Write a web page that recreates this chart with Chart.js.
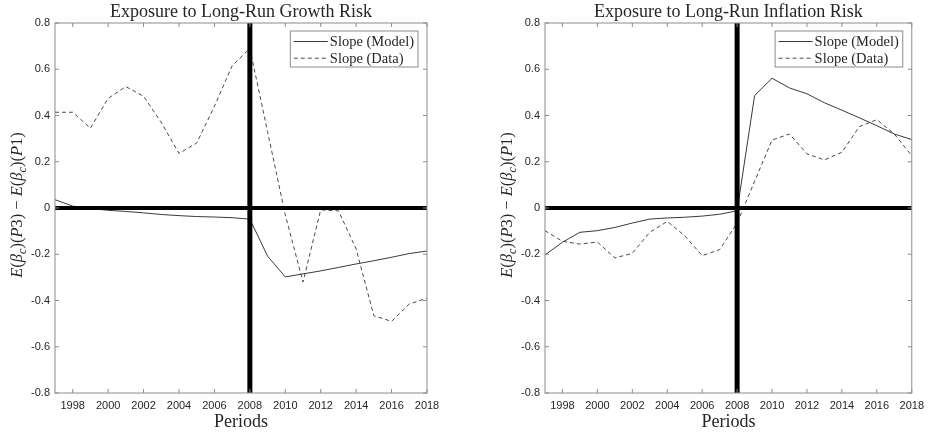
<!DOCTYPE html>
<html>
<head>
<meta charset="utf-8">
<script src="https://cdn.jsdelivr.net/npm/chart.js@4/dist/chart.umd.min.js"></script>
<style>
  html, body { margin: 0; padding: 0; background: #fff; }
  #wrap { position: relative; width: 930px; height: 434px; }
  canvas { position: absolute; top: 0; }
</style>
</head>
<body>
<div id="wrap">
  <canvas id="growth" width="465" height="434" style="left:0"></canvas>
  <canvas id="inflation" width="465" height="434" style="left:465px"></canvas>
</div>
<script>
// Sample periods (years)
const years = [1997, 1998, 1999, 2000, 2001, 2002, 2003, 2004, 2005, 2006, 2007,
               2008, 2009, 2010, 2011, 2012, 2013, 2014, 2015, 2016, 2017, 2018];

// Long-run growth risk: slope of E(beta_c) between portfolios P3 and P1
const growthModel = [0.036, 0.008, -0.002, -0.010, -0.015, -0.021, -0.028, -0.033, -0.037, -0.039, -0.042,
                     -0.048, -0.208, -0.298, -0.285, -0.272, -0.257, -0.242, -0.228, -0.213, -0.197, -0.186];
const growthData  = [0.414, 0.414, 0.345, 0.474, 0.525, 0.483, 0.370, 0.236, 0.281, 0.440, 0.615,
                     0.690, 0.330, -0.030, -0.320, -0.008, -0.012, -0.177, -0.466, -0.490, -0.415, -0.390];

// Long-run inflation risk
const inflationModel = [-0.203, -0.148, -0.105, -0.098, -0.084, -0.065, -0.048, -0.043, -0.040, -0.035, -0.027,
                        -0.012, 0.486, 0.561, 0.519, 0.494, 0.455, 0.423, 0.390, 0.356, 0.320, 0.296];
const inflationData  = [-0.098, -0.144, -0.156, -0.147, -0.216, -0.196, -0.105, -0.058, -0.120, -0.206, -0.180,
                        -0.065, 0.115, 0.294, 0.320, 0.234, 0.208, 0.241, 0.352, 0.382, 0.320, 0.226];

// Axis ticks
const yearTicks  = [1998, 2000, 2002, 2004, 2006, 2008, 2010, 2012, 2014, 2016, 2018];
const valueTicks = [-0.8, -0.6, -0.4, -0.2, 0, 0.2, 0.4, 0.6, 0.8];

// Reference lines: zero slope and the 2008 break
const baseline = 0;
const breakYear = 2008;

const seriesLabels = ['Slope (Model)', 'Slope (Data)'];
const titles = ['Exposure to Long-Run Growth Risk', 'Exposure to Long-Run Inflation Risk'];
const xTitle = 'Periods';

const SERIF = '"Liberation Serif", "Times New Roman", serif';
const SANS = '"Liberation Sans", Arial, sans-serif';
const TEXT = '#262626';
const FRAME = '#8c8c8c';

// y-axis label: E(β_c)(P3) − E(β_c)(P1), pieces with style flags
const yLabelPieces = [
  ['E', 'i'], ['(', 'r'], ['β', 'i'], ['c', 's'], [')(', 'r'], ['P', 'i'], ['3)', 'r'],
  [' − ', 'r'],
  ['E', 'i'], ['(', 'r'], ['β', 'i'], ['c', 's'], [')(', 'r'], ['P', 'i'], ['1)', 'r']
];

function pieceFont(kind, size) {
  if (kind === 'i') return 'italic ' + size + 'px ' + SERIF;
  if (kind === 's') return 'italic ' + Math.round(size * 0.7) + 'px ' + SERIF;
  return size + 'px ' + SERIF;
}

function drawYLabel(ctx, cx, cy, size) {
  let total = 0;
  const widths = yLabelPieces.map(([t, k]) => {
    ctx.font = pieceFont(k, size);
    const w = ctx.measureText(t).width;
    total += w;
    return w;
  });
  ctx.save();
  ctx.translate(cx, cy);
  ctx.rotate(-Math.PI / 2);
  ctx.fillStyle = TEXT;
  ctx.textBaseline = 'middle';
  ctx.textAlign = 'left';
  let x = -total / 2;
  yLabelPieces.forEach(([t, k], i) => {
    ctx.font = pieceFont(k, size);
    ctx.fillText(t, x, k === 's' ? size * 0.3 : 0);
    x += widths[i];
  });
  ctx.restore();
}

const decor = {
  id: 'decor',
  afterDatasetsDraw(chart, args, opts) {
    const { ctx, chartArea: a, scales: { x, y } } = chart;
    ctx.save();

    // Bold reference lines
    ctx.strokeStyle = '#000';
    ctx.lineWidth = 4;
    const y0 = y.getPixelForValue(baseline);
    ctx.beginPath(); ctx.moveTo(a.left, y0); ctx.lineTo(a.right, y0); ctx.stroke();
    ctx.lineWidth = 5;
    const xb = x.getPixelForValue(breakYear);
    ctx.beginPath(); ctx.moveTo(xb, a.top); ctx.lineTo(xb, a.bottom); ctx.stroke();

    // Axes box with inward ticks on all four sides
    ctx.strokeStyle = FRAME;
    ctx.lineWidth = 1;
    ctx.strokeRect(a.left, a.top, a.right - a.left, a.bottom - a.top);
    const tl = 4;
    ctx.beginPath();
    yearTicks.forEach(v => {
      const px = x.getPixelForValue(v);
      ctx.moveTo(px, a.bottom); ctx.lineTo(px, a.bottom - tl);
      ctx.moveTo(px, a.top); ctx.lineTo(px, a.top + tl);
    });
    valueTicks.forEach(v => {
      const py = y.getPixelForValue(v);
      ctx.moveTo(a.left, py); ctx.lineTo(a.left + tl, py);
      ctx.moveTo(a.right, py); ctx.lineTo(a.right - tl, py);
    });
    ctx.stroke();

    // Legend in the upper-right corner of the plot
    const fs = 14.5;
    ctx.font = fs + 'px ' + SERIF;
    const sample = 34;
    const textW = Math.max(...chart.data.datasets.map(d => ctx.measureText(d.label).width));
    const boxW = 3.5 + sample + 2 + textW + 4;
    const boxH = 36;
    const bx = a.right - 9 - boxW;
    const by = a.top + 8;
    ctx.fillStyle = '#fff';
    ctx.fillRect(bx, by, boxW, boxH);
    ctx.strokeStyle = FRAME;
    ctx.strokeRect(bx, by, boxW, boxH);
    chart.data.datasets.forEach((d, i) => {
      const ry = by + 10.5 + i * 16.7;
      ctx.strokeStyle = d.borderColor;
      ctx.lineWidth = 1;
      ctx.setLineDash(d.borderDash || []);
      ctx.beginPath(); ctx.moveTo(bx + 3.5, ry); ctx.lineTo(bx + 3.5 + sample, ry); ctx.stroke();
      ctx.setLineDash([]);
      ctx.fillStyle = TEXT;
      ctx.textBaseline = 'middle';
      ctx.textAlign = 'left';
      ctx.fillText(d.label, bx + 3.5 + sample + 2, ry + 0.5);
    });

    // Title centred over the plot area
    ctx.font = '18px ' + SERIF;
    ctx.fillStyle = TEXT;
    ctx.textAlign = 'center';
    ctx.textBaseline = 'alphabetic';
    ctx.fillText(opts.title, (a.left + a.right) / 2, 16.5);

    // Rotated y-axis label, a fixed distance left of the plot
    drawYLabel(ctx, a.left - 37.5, (a.top + a.bottom) / 2 - 3, 16.5);
    ctx.restore();
  }
};

function toPoints(vals) {
  return years.map((yr, i) => ({ x: yr, y: vals[i] }));
}

function makeChart(id, title, model, data, leftWidth, padRight) {
  return new Chart(document.getElementById(id), {
    type: 'line',
    data: {
      datasets: [
        { label: seriesLabels[0], data: toPoints(model), borderColor: '#3a3a3a', borderWidth: 1,
          pointRadius: 0, tension: 0, fill: false },
        { label: seriesLabels[1], data: toPoints(data), borderColor: '#4a4a4a', borderWidth: 1,
          borderDash: [4, 3], pointRadius: 0, tension: 0, fill: false }
      ]
    },
    options: {
      responsive: false,
      animation: false,
      devicePixelRatio: 1,
      layout: { padding: { left: 0, right: padRight, top: 23, bottom: 0 } },
      plugins: {
        legend: { display: false },
        tooltip: { enabled: false },
        title: { display: false },
        decor: { title: title }
      },
      scales: {
        x: {
          type: 'linear', min: 1997, max: 2018,
          grid: { display: false, drawTicks: false }, border: { display: false },
          afterBuildTicks: s => { s.ticks = yearTicks.map(v => ({ value: v })); },
          afterFit: s => { s.height = 41; },
          ticks: { color: TEXT, font: { family: SANS, size: 11 }, padding: 6, maxRotation: 0,
                   autoSkip: false, callback: v => String(v) },
          title: { display: true, text: xTitle, color: TEXT,
                   font: { family: SERIF, size: 18, weight: 'normal' }, padding: { top: 0, bottom: 1 } }
        },
        y: {
          type: 'linear', min: -0.8, max: 0.8,
          grid: { display: false, drawTicks: false }, border: { display: false },
          afterBuildTicks: s => { s.ticks = valueTicks.map(v => ({ value: v })); },
          afterFit: s => { s.width = leftWidth; },
          ticks: { color: TEXT, font: { family: SANS, size: 11 }, padding: 5,
                   callback: v => (Math.abs(v) < 1e-9 ? '0' : v.toFixed(1)) }
        }
      }
    },
    plugins: [decor]
  });
}

makeChart('growth', titles[0], growthModel, growthData, 55, 38);
makeChart('inflation', titles[1], inflationModel, inflationData, 80, 13);
</script>
</body>
</html>
